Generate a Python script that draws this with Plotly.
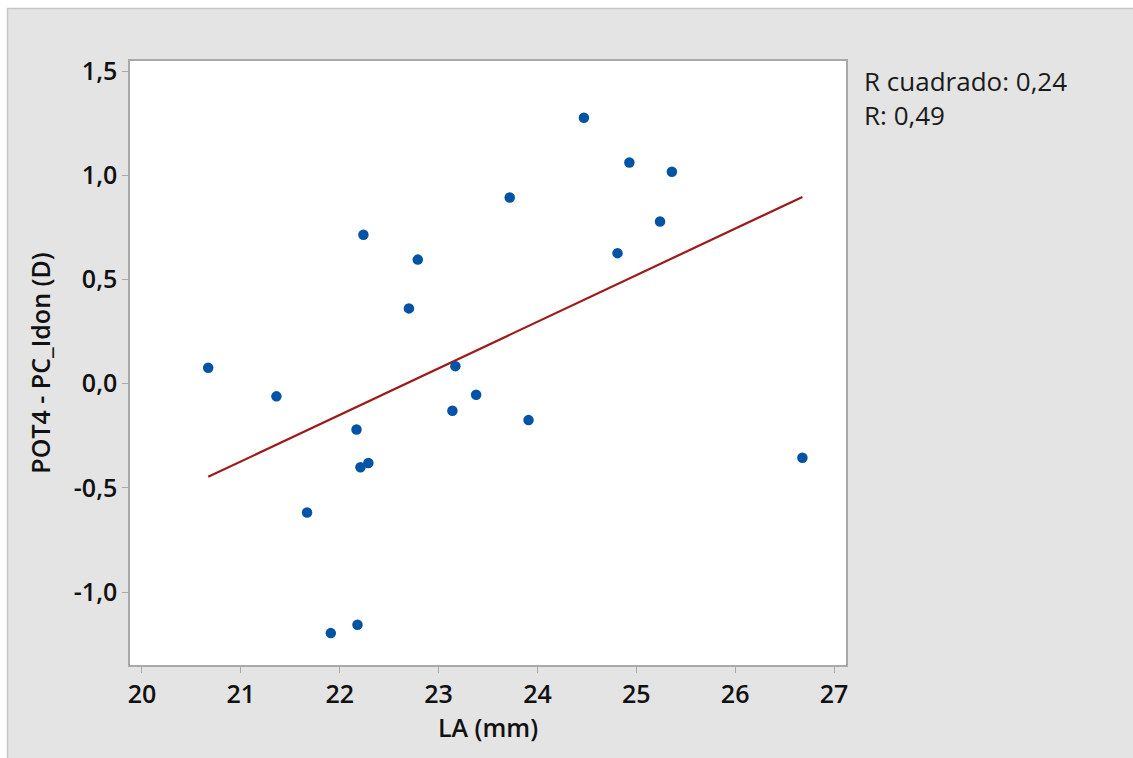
import numpy as np
import plotly.graph_objects as go

# Measurements: LA (mm) vs. POT4 - PC_Idon (D)
la_mm = [20.67, 21.36, 21.67, 21.91, 22.18, 22.17, 22.21, 22.29, 22.24, 22.70, 22.79,
         23.14, 23.17, 23.38, 23.72, 23.91, 24.47, 24.81, 24.93, 25.24, 25.36, 26.68]
pot4_diff = [0.076, -0.061, -0.618, -1.197, -1.157, -0.220, -0.401, -0.381, 0.714, 0.361, 0.595,
             -0.130, 0.084, -0.053, 0.893, -0.175, 1.276, 0.626, 1.061, 0.778, 1.017, -0.356]

x_ticks = [20, 21, 22, 23, 24, 25, 26, 27]
y_ticks = [-1.0, -0.5, 0.0, 0.5, 1.0, 1.5]
y_tick_labels = ["-1,0", "-0,5", "0,0", "0,5", "1,0", "1,5"]

# Least-squares fit line and its goodness of fit
x = np.array(la_mm)
y = np.array(pot4_diff)
slope, intercept = np.polyfit(x, y, 1)
fit_x = np.array([x.min(), x.max()])
fit_y = intercept + slope * fit_x
r = np.corrcoef(x, y)[0, 1]
r2 = r ** 2

W, H = 1133, 758
L, R, T, B = 130, 287, 61, 93
pw, ph = W - L - R, H - T - B


def px_x(p):
    return (p - L) / pw


def px_y(p):
    return (H - B - p) / ph


fig = go.Figure()
fig.add_trace(go.Scatter(
    x=fit_x, y=fit_y, mode="lines",
    line=dict(color="#9e1a1a", width=2.2),
    hoverinfo="skip", showlegend=False,
))
fig.add_trace(go.Scatter(
    x=la_mm, y=pot4_diff, mode="markers",
    marker=dict(color="#0153a5", size=10.5, line=dict(width=0)),
    showlegend=False,
))

fmt = lambda v: f"{v:.2f}".replace(".", ",")
fig.add_annotation(
    xref="paper", yref="paper", x=px_x(862), y=px_y(61),
    xanchor="left", yanchor="top", align="left", showarrow=False,
    text=f"R cuadrado: {fmt(r2)}<br>R: {fmt(abs(r))}",
    font=dict(family="Open Sans", size=26, color="#1a1a1a"),
)

# Outer panel: white page edge on the left and top, thin grey frame line
shapes = [
    dict(type="rect", xref="paper", yref="paper", x0=px_x(-5), x1=px_x(7), y0=px_y(H + 5), y1=px_y(-5),
         fillcolor="white", line=dict(width=0), layer="above"),
    dict(type="rect", xref="paper", yref="paper", x0=px_x(-5), x1=px_x(W + 5), y0=px_y(8), y1=px_y(-5),
         fillcolor="white", line=dict(width=0), layer="above"),
    dict(type="line", xref="paper", yref="paper", x0=px_x(7.5), x1=px_x(7.5), y0=px_y(8), y1=px_y(H + 5),
         line=dict(color="#c6c6c6", width=1.5), layer="above"),
    dict(type="line", xref="paper", yref="paper", x0=px_x(7), x1=px_x(W + 5), y0=px_y(8.5), y1=px_y(8.5),
         line=dict(color="#c6c6c6", width=1.5), layer="above"),
]

tick_font = dict(family="Open Sans", size=25, color="#111111", weight=600)
title_font = dict(family="Open Sans", size=25, color="#111111", weight=600)

axis_common = dict(
    showgrid=False, zeroline=False, showline=True, mirror=True,
    linecolor="#a9a9a9", linewidth=1.5,
    ticks="outside", ticklen=6, tickwidth=1, tickcolor="#a9a9a9",
    tickfont=tick_font,
)

fig.update_layout(
    width=W, height=H,
    margin=dict(l=L, r=R, t=T, b=B, pad=0),
    paper_bgcolor="#e4e4e4", plot_bgcolor="white",
    separators=",.",
    shapes=shapes,
    xaxis=dict(
        range=[19.879, 27.121], tickvals=x_ticks,
        title=dict(text="LA (mm)", standoff=7, font=title_font),
        **axis_common,
    ),
    yaxis=dict(
        range=[-1.350, 1.548], tickvals=y_ticks, ticktext=y_tick_labels,
        title=dict(text="POT4 - PC_Idon (D)", standoff=16, font=title_font),
        **axis_common,
    ),
)

fig.write_html("out.html")
